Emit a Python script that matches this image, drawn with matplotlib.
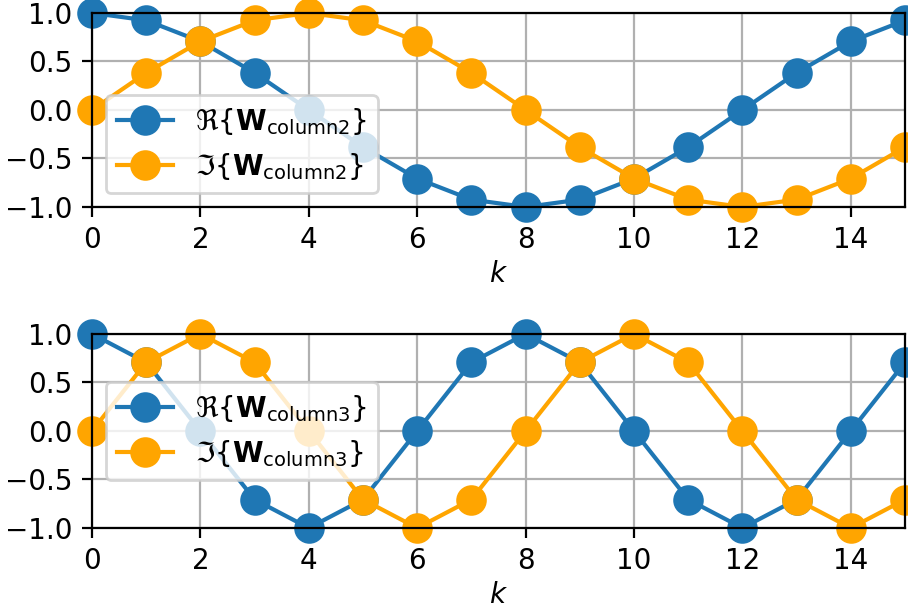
import matplotlib
matplotlib.use('Agg')
import matplotlib.pyplot as plt

# Spalten 2 und 3 der DFT-Matrix (N = 16), Real- und Imaginärteil
k = list(range(16))
re_col2 = [1.0, 0.924, 0.707, 0.383, 0.0, -0.383, -0.707, -0.924,
           -1.0, -0.924, -0.707, -0.383, 0.0, 0.383, 0.707, 0.924]
im_col2 = [0.0, 0.383, 0.707, 0.924, 1.0, 0.924, 0.707, 0.383,
           0.0, -0.383, -0.707, -0.924, -1.0, -0.924, -0.707, -0.383]
re_col3 = [1.0, 0.707, 0.0, -0.707, -1.0, -0.707, 0.0, 0.707,
           1.0, 0.707, 0.0, -0.707, -1.0, -0.707, 0.0, 0.707]
im_col3 = [0.0, 0.707, 1.0, 0.707, 0.0, -0.707, -1.0, -0.707,
           0.0, 0.707, 1.0, 0.707, 0.0, -0.707, -1.0, -0.707]

spalten = [
    ('column2', re_col2, im_col2, 'lower left'),
    ('column3', re_col3, im_col3, 'center left'),
]

fig = plt.figure(figsize=(4.54, 3.06), dpi=200)
positionen = [[0.1013, 0.6618, 0.8954, 0.3170],
              [0.1013, 0.1373, 0.8954, 0.3170]]

for pos, (name, re, im, loc) in zip(positionen, spalten):
    ax = fig.add_axes(pos)
    ax.plot(k, re, 'o-', color='#1f77b4', markersize=10, clip_on=False,
            label=r'$\Re\{\mathbf{W}_{\mathrm{%s}}\}$' % name)
    ax.plot(k, im, 'o-', color='orange', markersize=10, clip_on=False,
            label=r'$\Im\{\mathbf{W}_{\mathrm{%s}}\}$' % name)
    ax.set_xlim(0, 15)
    ax.set_ylim(-1, 1)
    ax.set_xticks(range(0, 15, 2))
    ax.set_yticks([-1.0, -0.5, 0.0, 0.5, 1.0])
    ax.grid(True)
    ax.set_xlabel('$k$', labelpad=2)
    ax.legend(loc=loc)

plt.savefig('out.png', dpi=200)
